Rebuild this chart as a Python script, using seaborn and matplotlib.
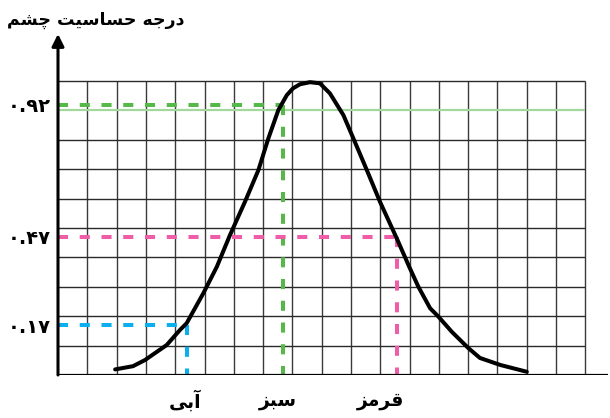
import matplotlib
matplotlib.use("Agg")
import matplotlib.pyplot as plt
import seaborn as sns

# curve of eye sensitivity (x in grid columns, y in sensitivity)
curve_x = [1.95, 2.56, 2.97, 3.71, 4.16, 4.39, 4.96, 5.42, 5.87, 6.38, 6.84, 7.18, 7.52, 7.81,
           8.02, 8.26, 8.60, 8.94, 9.28, 9.74, 10.08, 10.54, 10.99, 11.56, 12.01, 12.30,
           12.70, 12.97, 13.44, 14.00, 14.40, 15.10, 16.00]
curve_y = [0.019, 0.030, 0.051, 0.102, 0.153, 0.176, 0.278, 0.368, 0.476, 0.589, 0.697, 0.805, 0.901, 0.952,
           0.975, 0.989, 0.996, 0.992, 0.958, 0.884, 0.805, 0.697, 0.589, 0.465, 0.363, 0.300,
           0.227, 0.200, 0.147, 0.092, 0.058, 0.034, 0.011]

mark_names = ["آبی", "سبز", "قرمز"]
mark_x = [4.39, 7.69, 11.56]
mark_y = [0.17, 0.92, 0.47]
mark_labels = ["۰.۱۷", "۰.۹۲", "۰.۴۷"]
mark_colors = ["#0BAEEF", "#55B849", "#EF5DA8"]
name_x = [4.33, 7.5, 10.99]

ylabel = "درجه حساسیت چشم"

n_cols = 18
n_rows = 10

# simple persian shaping for matplotlib (no complex text layout)
FORMS = {
    'ا': ('\uFE8D', '\uFE8E'), 'آ': ('\uFE81', '\uFE82'),
    'د': ('\uFEA9', '\uFEAA'), 'ر': ('\uFEAD', '\uFEAE'), 'ز': ('\uFEAF', '\uFEB0'),
    'ب': ('\uFE8F', '\uFE90', '\uFE91', '\uFE92'), 'ت': ('\uFE95', '\uFE96', '\uFE97', '\uFE98'),
    'ج': ('\uFE9D', '\uFE9E', '\uFE9F', '\uFEA0'), 'ح': ('\uFEA1', '\uFEA2', '\uFEA3', '\uFEA4'),
    'س': ('\uFEB1', '\uFEB2', '\uFEB3', '\uFEB4'), 'ش': ('\uFEB5', '\uFEB6', '\uFEB7', '\uFEB8'),
    'ق': ('\uFED5', '\uFED6', '\uFED7', '\uFED8'), 'م': ('\uFEE1', '\uFEE2', '\uFEE3', '\uFEE4'),
    'ه': ('\uFEE9', '\uFEEA', '\uFEEB', '\uFEEC'), 'چ': ('\uFB7A', '\uFB7B', '\uFB7C', '\uFB7D'),
    'ی': ('\uFBFC', '\uFBFD', '\uFBFE', '\uFBFF'),
}


def shape(text):
    out = []
    for i, ch in enumerate(text):
        if ch not in FORMS:
            out.append(ch)
            continue
        f = FORMS[ch]
        prev = text[i - 1] if i > 0 else ""
        nxt = text[i + 1] if i < len(text) - 1 else ""
        pj = prev in FORMS and len(FORMS[prev]) == 4
        nj = len(f) == 4 and nxt in FORMS
        if pj and nj:
            out.append(f[3])
        elif pj:
            out.append(f[1])
        elif nj:
            out.append(f[2])
        else:
            out.append(f[0])
    return "".join(out)[::-1]


sns.set_style("white")
plt.rcParams["font.family"] = ["DejaVu Sans"]
plt.rcParams["text.color"] = "black"
plt.rcParams["ytick.color"] = "black"

fig = plt.figure(figsize=(6.1, 4.18), dpi=100)
ax = fig.add_axes([58 / 610, 43 / 418, 550 / 610, 337 / 418])
ax.set_xlim(0, 550 / 29.3)
ax.set_ylim(0, 337 / 294)
for s in ax.spines.values():
    s.set_visible(False)

# grid
grid_cols = list(range(1, n_cols + 1))
grid_rows = [r / n_rows for r in range(1, n_rows + 1)]
ax.vlines(grid_cols, 0, 1.0, color="#3a3a3a", lw=1.0, zorder=1)
ax.hlines([r for r in grid_rows if abs(r - 0.9) > 1e-6], 0, n_cols, color="#2a2a2a", lw=1.0, zorder=1)
ax.hlines(0.9, 0, n_cols, color="#a3d79c", lw=1.6, zorder=1)

# dashed guides
for x, y, c in zip(mark_x, mark_y, mark_colors):
    ax.plot([0, x], [y, y], color=c, lw=2.9, ls=(0, (2.5, 2.9)), zorder=2)
    ax.plot([x, x], [y, 0], color=c, lw=2.9, ls=(0, (2.5, 2.9)), zorder=2)

sns.lineplot(x=curve_x, y=curve_y, ax=ax, color="black", lw=2.9, sort=False, zorder=3,
             solid_joinstyle="round", solid_capstyle="round")

# axes
ax.axhline(0, color="black", lw=1.6, zorder=4)
ax.annotate("", xy=(0, 1.16), xytext=(0, 0),
            arrowprops=dict(arrowstyle="-|>", color="black", lw=2.2, mutation_scale=18,
                            shrinkA=0, shrinkB=0),
            annotation_clip=False, zorder=5)

ax.set_yticks(mark_y, mark_labels, fontsize=14, fontweight="bold", color="black")
ax.tick_params(axis="y", length=0, pad=5)
ax.set_xticks([])

for nx, nm in zip(name_x, mark_names):
    ax.text(nx, -0.088, shape(nm), ha="center", va="center", fontsize=13.5,
            fontweight="bold", color="black")

fig.text(7 / 610, 1 - 20 / 418, shape(ylabel), ha="left", va="center",
         fontsize=12.5, fontweight="bold", color="black")

fig.savefig("out.png", dpi=100)
